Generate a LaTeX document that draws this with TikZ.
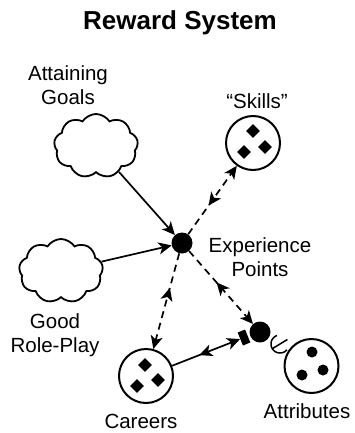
\documentclass[tikz,border=0pt]{standalone}
\usepackage{fontspec}
\setmainfont{Liberation Sans}
\usetikzlibrary{arrows.meta,shapes.symbols,shapes.geometric,decorations.markings}
\begin{document}
\begin{tikzpicture}[x=1pt,y=-1pt,
  pool/.style={circle,draw,line width=2pt,minimum size=54pt,inner sep=0pt},
  bigdot/.style={circle,fill,minimum size=21pt,inner sep=0pt},
  cloudy/.style={cloud,cloud puffs=9,cloud puff arc=115,cloud ignores aspect,draw,line width=1.8pt,minimum width=84pt,minimum height=64pt,inner sep=0pt},
  lbl/.style={font=\fontsize{20.5}{24.5}\selectfont,align=center,inner sep=0pt},
  diam/.style={diamond,fill,minimum size=14pt,inner sep=0pt},
  tok/.style={circle,fill,minimum size=11pt,inner sep=0pt},
  tipc/.tip={Stealth[length=13pt,width=12pt,inset=3.5pt]},
  flow/.style={line width=1.7pt,-tipc},
  statec/.style={flow,dash pattern=on 7pt off 5pt},
  midrev/.style={postaction={decorate},decoration={markings,mark=at position #1 with {\arrowreversed{tipc}}}}
]
\useasboundingbox (0,0) rectangle (354,433);

\node[font=\fontsize{26}{30}\selectfont\bfseries,inner sep=0pt] (title) at (180,23) {Reward System};

\node[cloudy] (cloudA) at (96,146) {};
\node[cloudy] (cloudB) at (61,271) {};
\node[lbl] (tA) at (68,85) {Attaining\\Goals};
\node[lbl] (tB) at (55,335) {Good\\Role-Play};

\node[bigdot] (ep) at (182,243) {};
\node[lbl] (tEP) at (260,257) {Experience\\Points};

\node[pool] (skills) at (253,143) {};
\node[diam] (s1) at (253,131) {};
\node[diam] (s2) at (244,152) {};
\node[diam] (s3) at (265,147) {};
\node[lbl] (tS) at (257,101) {“Skills”};

\node[pool] (careers) at (146,376) {};
\node[diam] (c1) at (145,365) {};
\node[diam] (c2) at (137,386) {};
\node[diam] (c3) at (158,380) {};
\node[lbl] (tC) at (141,421) {Careers};

\node[pool] (attr) at (311.5,366) {};
\node[tok] (a1) at (312,352) {};
\node[tok] (a2) at (302,375) {};
\node[tok] (a3) at (323,370) {};
\node[lbl] (tAt) at (307,411) {Attributes};

\node[bigdot] (conv) at (260,332) {};
\node[fill,minimum width=8pt,minimum height=14pt,inner sep=0pt,rotate=22] (gate) at (244,337.5) {};

\draw[flow] (cloudA) -- (ep);
\draw[flow] (cloudB) -- (ep);
\draw[statec,midrev=0.42] (ep) -- (skills);
\draw[statec,midrev=0.36] (ep) -- (careers);
\draw[statec,midrev=0.43] (ep) -- (conv);
\draw[flow,midrev=0.40] (careers) -- (gate.west);

\draw[line width=1.5pt] plot[domain=40:250,samples=30] ({280+9*cos(\x)},{344+9*sin(\x)});
\draw[line width=1.5pt] (272.6,348.5) -- (287.4,339.5);
\end{tikzpicture}
\end{document}
